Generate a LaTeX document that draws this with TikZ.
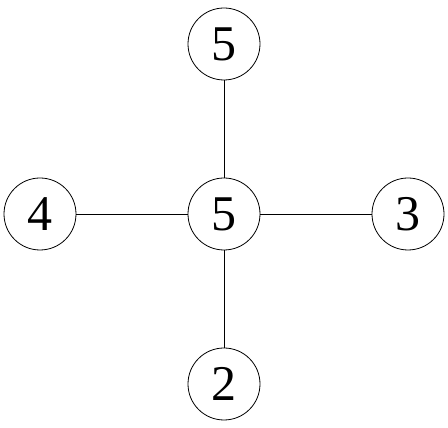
\documentclass[tikz,border=0pt]{standalone}
\usepackage{fontspec}
\setmainfont{Liberation Serif}
\begin{document}
\begin{tikzpicture}[x=1pt,y=1pt,
  vert/.style={circle,draw,line width=0.8pt,minimum size=72pt,inner sep=0pt,font=\fontsize{50}{50}\selectfont\rmfamily},
  edge/.style={line width=0.8pt}]
\useasboundingbox (0,0) rectangle (448,428);
\node[vert] (c) at (224,214) {5};
\node[vert] (t) at (224,384) {5};
\node[vert] (b) at (224,44) {2};
\node[vert] (l) at (40,214) {4};
\node[vert] (r) at (408,214) {3};
\draw[edge] (c) -- (t);
\draw[edge] (c) -- (b);
\draw[edge] (c) -- (l);
\draw[edge] (c) -- (r);
\end{tikzpicture}
\end{document}
